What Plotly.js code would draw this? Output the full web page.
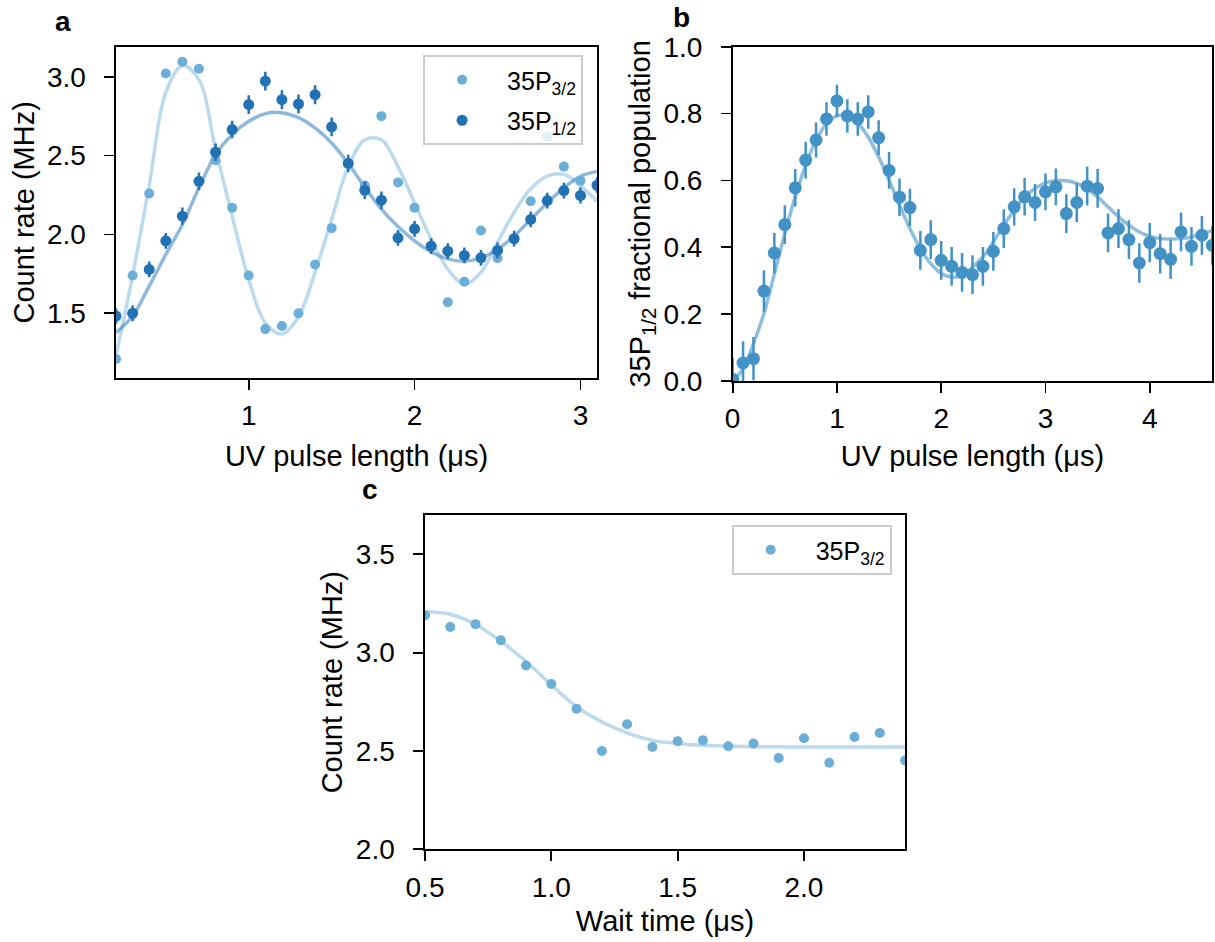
<!DOCTYPE html>
<html>
<head>
<meta charset="utf-8">
<script src="https://cdn.plot.ly/plotly-3.0.1.min.js"></script>
<style>html,body{margin:0;padding:0;background:#fff;} #plot{width:1215px;height:942px;}</style>
</head>
<body>
<div id="plot"></div>
<script>
// ---------- Panel a ----------
const aX = [0.2,0.3,0.4,0.5,0.6,0.7,0.8,0.9,1.0,1.1,1.2,1.3,1.4,1.5,1.6,1.7,1.8,1.9,2.0,2.1,2.2,2.3,2.4,2.5,2.6,2.7,2.8,2.9,3.0,3.1];
const aP32 = [1.21,1.74,2.26,3.02,3.095,3.05,2.47,2.17,1.74,1.40,1.42,1.50,1.81,2.04,2.45,2.31,2.75,2.33,2.17,1.93,1.57,1.70,2.025,1.85,1.97,2.21,2.62,2.43,2.34,2.31];
const aP12 = [1.483,1.50,1.778,1.96,2.116,2.337,2.521,2.665,2.823,2.972,2.854,2.827,2.886,2.682,2.45,2.28,2.217,1.979,2.036,1.926,1.894,1.867,1.852,1.899,1.973,2.095,2.215,2.278,2.247,2.312];
const aP12err = [0.05,0.05,0.05,0.05,0.055,0.055,0.055,0.055,0.06,0.06,0.06,0.06,0.06,0.06,0.055,0.055,0.055,0.05,0.05,0.05,0.05,0.05,0.05,0.05,0.05,0.05,0.05,0.05,0.05,0.05];
const aFit32X = [0.2,0.3,0.4,0.5,0.6,0.7,0.8,0.9,1.0,1.1,1.2,1.3,1.4,1.5,1.6,1.7,1.8,1.9,2.0,2.1,2.2,2.3,2.4,2.5,2.6,2.7,2.8,2.9,3.0,3.1];
const aFit32Y = [1.23,1.74,2.31,2.90,3.07,2.98,2.54,2.116,1.715,1.44,1.37,1.48,1.76,2.095,2.43,2.60,2.60,2.43,2.20,1.97,1.78,1.685,1.76,1.95,2.14,2.29,2.37,2.38,2.31,2.21];
const aFit12X = [0.2,0.3,0.4,0.5,0.6,0.7,0.8,0.9,1.0,1.1,1.2,1.3,1.4,1.5,1.6,1.7,1.8,1.9,2.0,2.1,2.2,2.3,2.4,2.5,2.6,2.7,2.8,2.9,3.0,3.1];
const aFit12Y = [1.378,1.483,1.673,1.873,2.063,2.296,2.506,2.633,2.717,2.766,2.772,2.74,2.675,2.58,2.45,2.30,2.16,2.05,1.96,1.89,1.845,1.831,1.852,1.905,1.99,2.095,2.2,2.296,2.369,2.40];
const aXTicks = [1,2,3];
const aYTicks = [1.5,2.0,2.5,3.0];

// ---------- Panel b ----------
const bX = [0,0.1,0.2,0.3,0.4,0.5,0.6,0.7,0.8,0.9,1.0,1.1,1.2,1.3,1.4,1.5,1.6,1.7,1.8,1.9,2.0,2.1,2.2,2.3,2.4,2.5,2.6,2.7,2.8,2.9,3.0,3.1,3.2,3.3,3.4,3.5,3.6,3.7,3.8,3.9,4.0,4.1,4.2,4.3,4.4,4.5,4.6];
const bPop = [0.005,0.054,0.067,0.269,0.383,0.468,0.578,0.661,0.721,0.784,0.838,0.793,0.784,0.805,0.728,0.63,0.55,0.519,0.391,0.423,0.361,0.343,0.325,0.318,0.343,0.388,0.456,0.521,0.551,0.534,0.566,0.581,0.501,0.534,0.583,0.576,0.443,0.456,0.423,0.353,0.414,0.381,0.364,0.446,0.403,0.436,0.406];
const bErr = [0.065,0.065,0.065,0.062,0.06,0.058,0.056,0.055,0.052,0.05,0.048,0.05,0.05,0.05,0.052,0.055,0.056,0.056,0.058,0.058,0.058,0.058,0.058,0.058,0.058,0.058,0.058,0.056,0.056,0.055,0.055,0.055,0.058,0.058,0.058,0.058,0.058,0.058,0.058,0.059,0.059,0.059,0.059,0.058,0.058,0.058,0.058];
const bFit = [0.0,0.037,0.112,0.202,0.32,0.441,0.551,0.646,0.72,0.77,0.793,0.793,0.772,0.73,0.67,0.601,0.526,0.456,0.396,0.351,0.322,0.311,0.316,0.341,0.371,0.416,0.466,0.511,0.551,0.576,0.593,0.599,0.599,0.591,0.574,0.551,0.521,0.491,0.466,0.446,0.433,0.426,0.425,0.426,0.431,0.441,0.45];
const bXTicks = [0,1,2,3,4];
const bYTicks = [0,0.2,0.4,0.6,0.8,1.0];

// ---------- Panel c ----------
const cX = [0.5,0.6,0.7,0.8,0.9,1.0,1.1,1.2,1.3,1.4,1.5,1.6,1.7,1.8,1.9,2.0,2.1,2.2,2.3,2.4];
const cRate = [3.19,3.13,3.145,3.063,2.935,2.841,2.715,2.50,2.636,2.52,2.55,2.554,2.524,2.538,2.464,2.565,2.44,2.571,2.592,2.452];
const cFit = [3.208,3.195,3.143,3.058,2.955,2.836,2.725,2.648,2.592,2.554,2.538,2.529,2.525,2.522,2.521,2.52,2.52,2.52,2.52,2.52];
const cXTicks = [0.5,1.0,1.5,2.0];
const cYTicks = [2.0,2.5,3.0,3.5];

const FONT = 'Liberation Sans, Arial, Helvetica, sans-serif';
const LIGHT = '#6baed6', DARK = '#2171b5', MID = '#4292c6';
const LIGHTFIT = 'rgba(107,174,214,0.45)', DARKFIT = 'rgba(33,113,181,0.5)', MIDFIT = 'rgba(66,146,198,0.6)';

const traces = [
  {x:aFit32X, y:aFit32Y, mode:'lines', line:{color:LIGHTFIT, width:3.5, shape:'spline', smoothing:1}, xaxis:'x', yaxis:'y', showlegend:false, hoverinfo:'skip'},
  {x:aFit12X, y:aFit12Y, mode:'lines', line:{color:DARKFIT, width:3.5, shape:'spline', smoothing:1}, xaxis:'x', yaxis:'y', showlegend:false, hoverinfo:'skip'},
  {x:aX, y:aP32, mode:'markers', name:'35P<sub>3/2</sub>', marker:{color:LIGHT, size:10}, xaxis:'x', yaxis:'y', legend:'legend', legendgroup:'g1'},
  {x:aX, y:aP12, mode:'markers', name:'35P<sub>1/2</sub>', marker:{color:DARK, size:11},
   error_y:{type:'data', array:aP12err, visible:true, color:DARK, thickness:2.5, width:0}, xaxis:'x', yaxis:'y', legend:'legend', legendgroup:'g2'},

  {x:bX, y:bFit, mode:'lines', line:{color:MIDFIT, width:3.5, shape:'spline', smoothing:1}, xaxis:'x2', yaxis:'y2', showlegend:false, hoverinfo:'skip'},
  {x:bX, y:bPop, mode:'markers', marker:{color:MID, size:13},
   error_y:{type:'data', array:bErr, visible:true, color:MID, thickness:2.5, width:0}, xaxis:'x2', yaxis:'y2', showlegend:false},

  {x:cX, y:cFit, mode:'lines', line:{color:LIGHTFIT, width:3.5, shape:'spline', smoothing:1}, xaxis:'x3', yaxis:'y3', showlegend:false, hoverinfo:'skip'},
  {x:cX, y:cRate, mode:'markers', name:'35P<sub>3/2</sub>', marker:{color:LIGHT, size:10}, xaxis:'x3', yaxis:'y3', legend:'legend2'}
];

function ax(extra, isY){
  return Object.assign({
    showline:true, mirror:true, linecolor:'#000', linewidth:1.6,
    ticks:'outside', ticklen:10, tickwidth:1.8, tickcolor:'#000',
    showgrid:false, zeroline:false, automargin:false,
    ticklabelstandoff: isY ? 13 : 2,
    tickfont:{family:FONT, size:28, color:'#000'}
  }, extra);
}
const titleFont = {family:FONT, size:29, color:'#000'};

const legendCommon = {bgcolor:'rgba(255,255,255,0.8)', bordercolor:'#cccccc', borderwidth:2,
  font:{family:FONT, size:25, color:'#000'}, itemwidth:80, indentation:-8, tracegroupgap:5};

const layout = {
  width:1215, height:942,
  margin:{l:0, r:0, t:0, b:0},
  paper_bgcolor:'#fff', plot_bgcolor:'#fff',
  font:{family:FONT, color:'#000'},
  xaxis: ax({domain:[0.0955,0.4914], range:[0.2,3.1], tickvals:aXTicks, ticktext:aXTicks.map(String), anchor:'y',
    title:{text:'UV pulse length (μs)', font:titleFont, standoff:15}}, false),
  yaxis: ax({domain:[0.5987,0.9504], range:[1.09,3.19], tickvals:aYTicks, ticktext:aYTicks.map(v=>v.toFixed(1)), anchor:'x',
    title:{text:'Count rate (MHz)', font:titleFont, standoff:4}}, true),
  xaxis2: ax({domain:[0.6030,0.9978], range:[0,4.6], tickvals:bXTicks, ticktext:bXTicks.map(String), anchor:'y2',
    title:{text:'UV pulse length (μs)', font:titleFont, standoff:12}}, false),
  yaxis2: ax({domain:[0.5955,0.9504], range:[0,1], tickvals:bYTicks, ticktext:bYTicks.map(v=>v.toFixed(1)), anchor:'x2',
    title:{text:'35P<sub>1/2</sub> fractional population', font:titleFont, standoff:4}}, true),
  xaxis3: ax({domain:[0.3498,0.7449], range:[0.5,2.4], tickvals:cXTicks, ticktext:cXTicks.map(v=>v.toFixed(1)), anchor:'y3',
    title:{text:'Wait time (μs)', font:titleFont, standoff:9}}, false),
  yaxis3: ax({domain:[0.0984,0.4533], range:[2.0,3.7], tickvals:cYTicks, ticktext:cYTicks.map(v=>v.toFixed(1)), anchor:'x3',
    title:{text:'Count rate (MHz)', font:titleFont, standoff:5}}, true),
  legend: Object.assign({x:0.4799, xanchor:'right', y:1-55/942, yanchor:'top'}, legendCommon),
  legend2: Object.assign({x:0.7339, xanchor:'right', y:1-525/942, yanchor:'top'}, legendCommon),
  annotations: [
    {text:'<b>a</b>', xref:'paper', yref:'paper', x:54/1215, y:1-22/942, xanchor:'left', yanchor:'middle', showarrow:false, borderpad:0, font:{family:FONT, size:28, color:'#000'}},
    {text:'<b>b</b>', xref:'paper', yref:'paper', x:672/1215, y:1-18/942, xanchor:'left', yanchor:'middle', showarrow:false, borderpad:0, font:{family:FONT, size:28, color:'#000'}},
    {text:'<b>c</b>', xref:'paper', yref:'paper', x:361/1215, y:1-489/942, xanchor:'left', yanchor:'middle', showarrow:false, borderpad:0, font:{family:FONT, size:28, color:'#000'}}
  ]
};

Plotly.newPlot('plot', traces, layout, {displayModeBar:false, staticPlot:true});
</script>
</body>
</html>
